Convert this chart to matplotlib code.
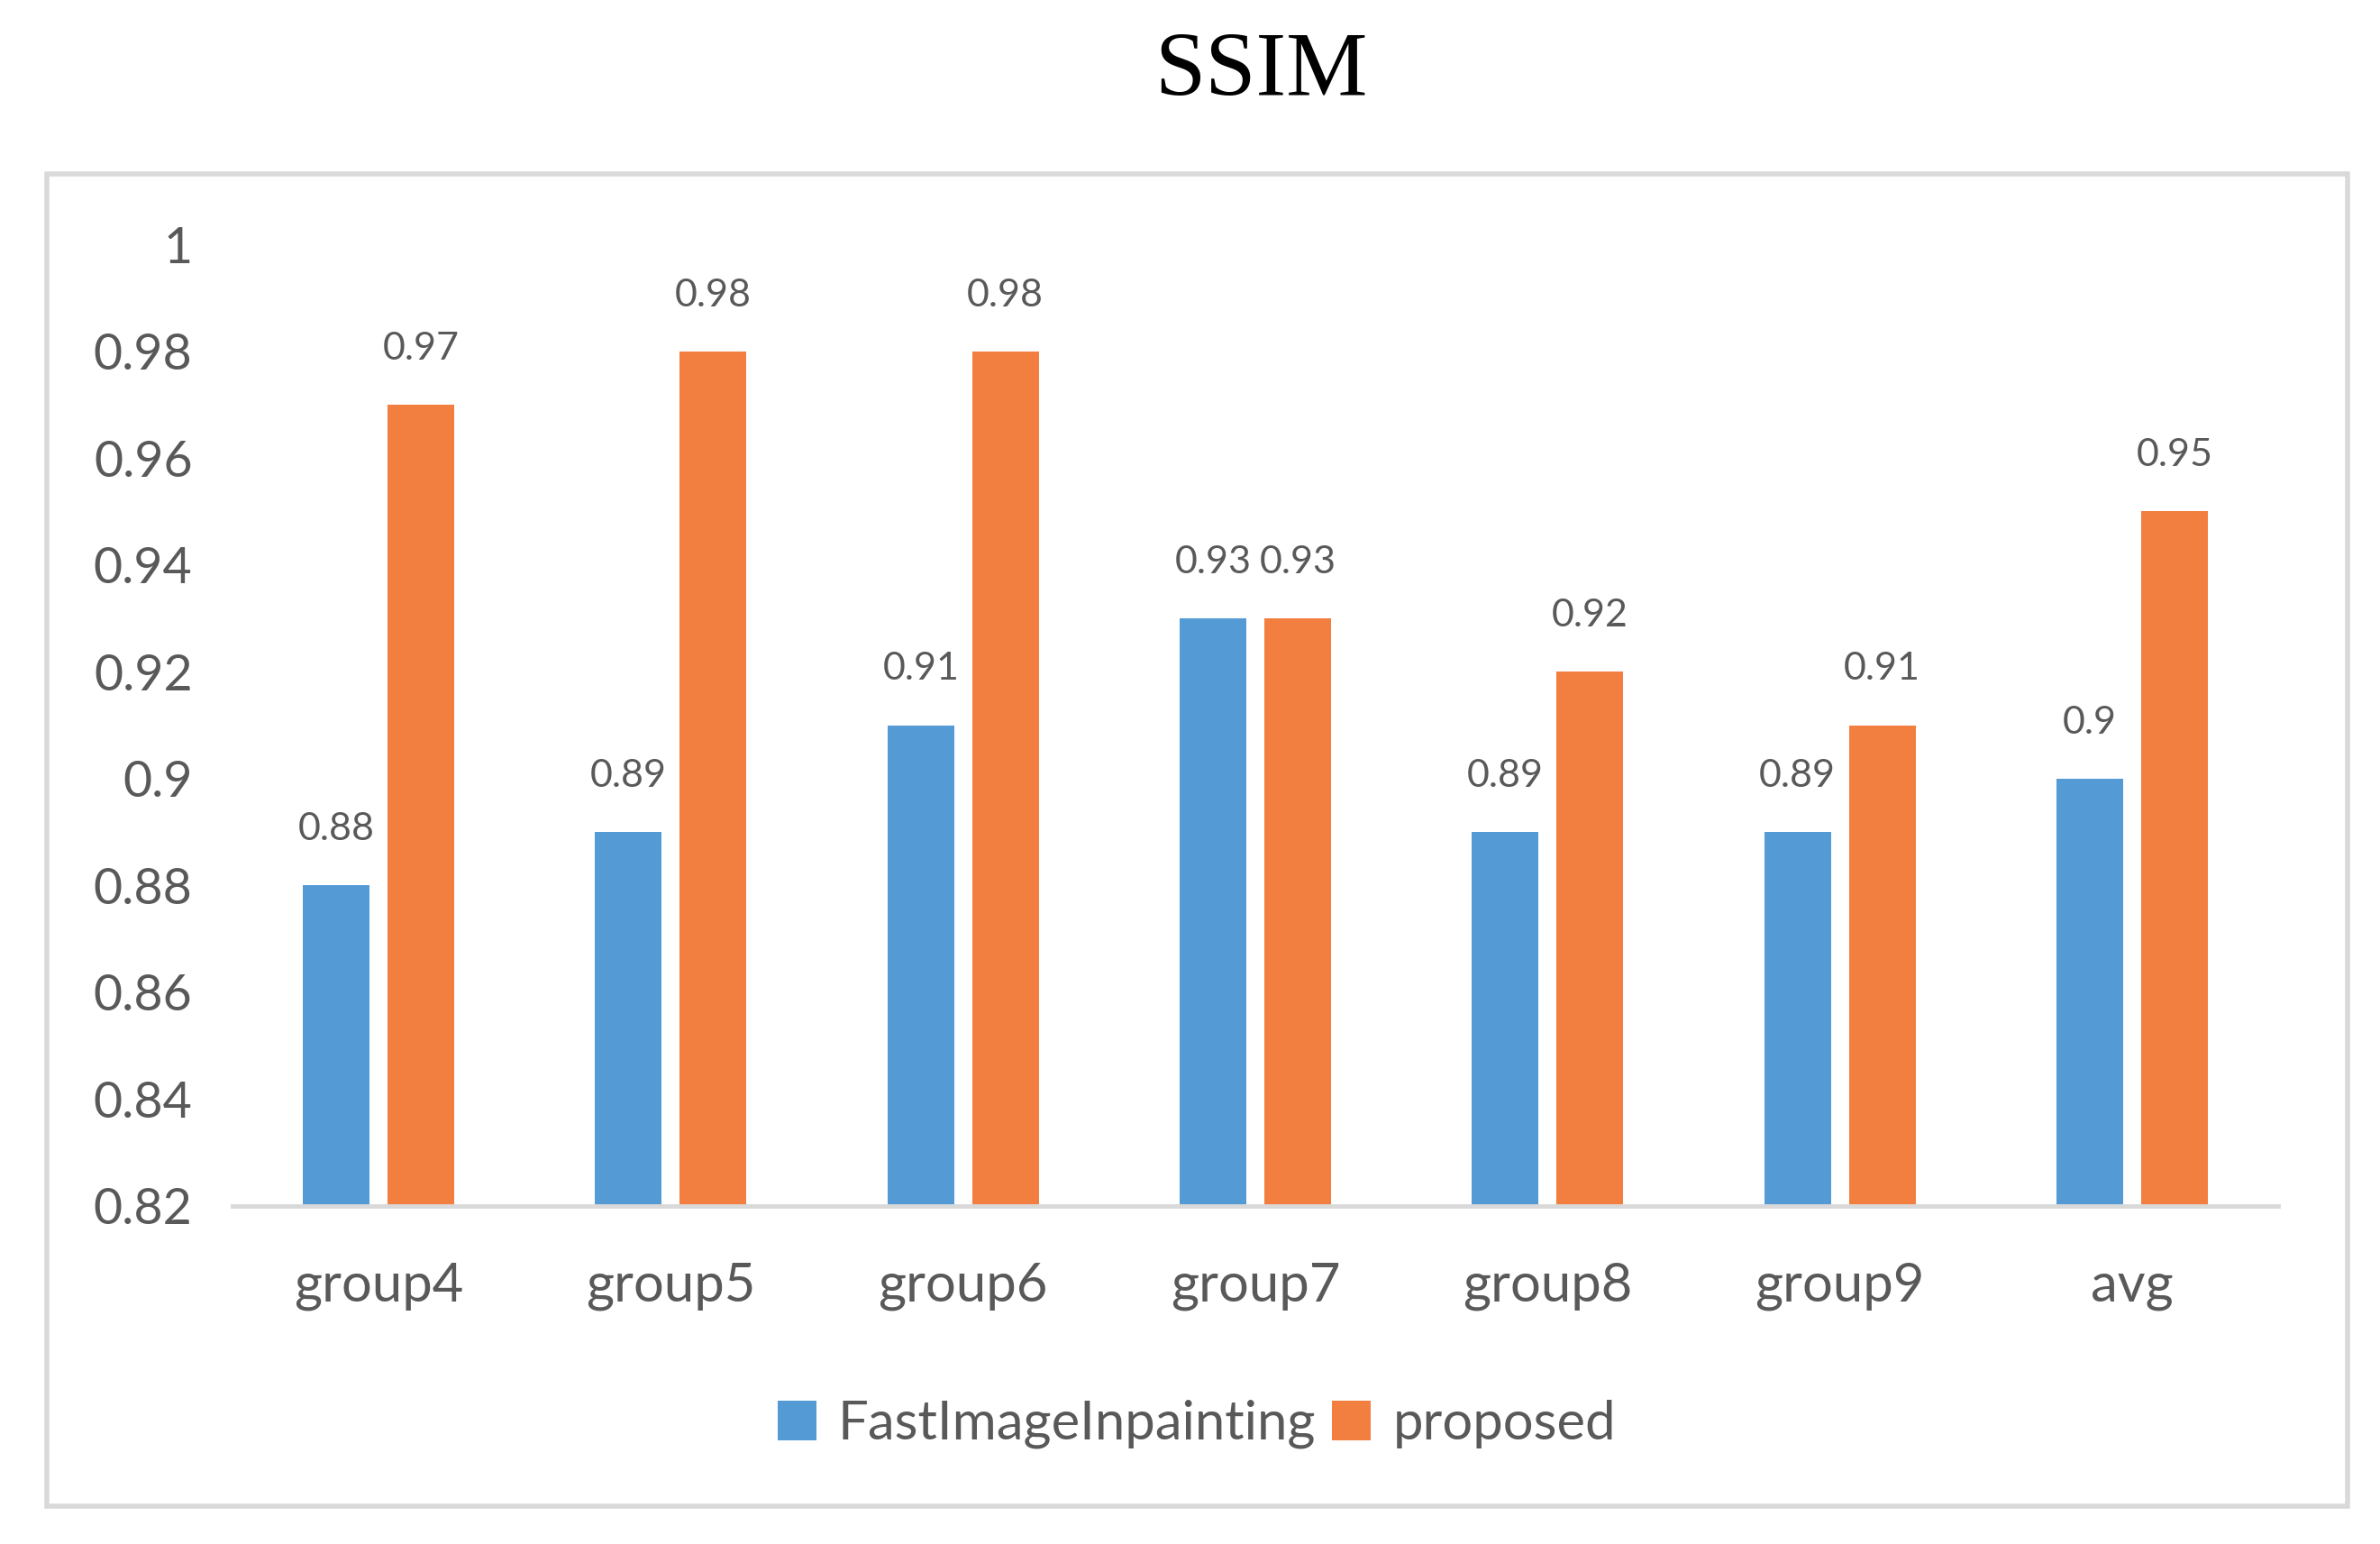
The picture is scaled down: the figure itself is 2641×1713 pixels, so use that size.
import matplotlib
matplotlib.use("Agg")
import matplotlib.pyplot as plt
import numpy as np
from matplotlib.patches import Rectangle


categories = ["group4", "group5", "group6", "group7", "group8", "group9", "avg"]
fast_inpainting = [0.88, 0.89, 0.91, 0.93, 0.89, 0.89, 0.90]
proposed = [0.97, 0.98, 0.98, 0.93, 0.92, 0.91, 0.95]
y_ticks = [0.82, 0.84, 0.86, 0.88, 0.9, 0.92, 0.94, 0.96, 0.98, 1]

BLUE = "#549BD5"
ORANGE = "#F27E40"
TEXT = "#595959"
LINE = "#D9D9D9"

W, H = 2641, 1713
DPI = 100


def main() -> None:
    plt.rcParams["font.family"] = ["Lato", "DejaVu Sans"]

    fig = plt.figure(figsize=(W / DPI, H / DPI), dpi=DPI, facecolor="white")

    # outer chart frame
    fig.patches.append(Rectangle((52 / W, 1 - 1671 / H), (2605 - 52) / W, (1671 - 193) / H,
                                 transform=fig.transFigure, fill=False, edgecolor=LINE,
                                 linewidth=4))

    ax = fig.add_axes([258 / W, 1 - 1338 / H, (2528 - 258) / W, (1338 - 271) / H])

    x = np.arange(len(categories))
    width = 0.228
    offset = 0.145

    b1 = ax.bar(x - offset, fast_inpainting, width, color=BLUE, label="FastImageInpainting", zorder=3)
    b2 = ax.bar(x + offset, proposed, width, color=ORANGE, label="proposed", zorder=3)

    for bars, vals in ((b1, fast_inpainting), (b2, proposed)):
        for rect, v in zip(bars, vals):
            ax.annotate(f"{v:g}", (rect.get_x() + rect.get_width() / 2, v),
                        xytext=(0, 36), textcoords="offset points",
                        ha="center", va="baseline", fontsize=31, color=TEXT)

    ax.set_ylim(0.82, 1.0)
    ax.set_xlim(-0.5, len(categories) - 0.5)
    ax.set_yticks(y_ticks)
    ax.set_yticklabels([f"{t:g}" for t in y_ticks])
    ax.set_xticks(x)
    ax.set_xticklabels(categories)
    ax.tick_params(axis="y", length=0, pad=32, labelsize=40, labelcolor=TEXT)
    ax.tick_params(axis="x", length=0, pad=45, labelsize=43, labelcolor=TEXT)

    for side in ("top", "right", "left"):
        ax.spines[side].set_visible(False)
    ax.spines["bottom"].set_color(LINE)
    ax.spines["bottom"].set_linewidth(3.5)
    ax.spines["bottom"].set_zorder(4)

    leg = fig.legend(loc="center", bbox_to_anchor=(1328 / W, 1 - 1580 / H), ncol=2,
                     frameon=False, fontsize=43, handlelength=0.72, handleheight=0.74,
                     handletextpad=0.4, columnspacing=0.3)
    for t in leg.get_texts():
        t.set_color(TEXT)

    fig.text(1399 / W, 1 - 82 / H, "SSIM", ha="center", va="center",
             fontsize=73, family=["Liberation Serif", "DejaVu Serif"], color="black")

    fig.savefig("out.png", dpi=DPI, facecolor="white")


if __name__ == "__main__":
    main()
